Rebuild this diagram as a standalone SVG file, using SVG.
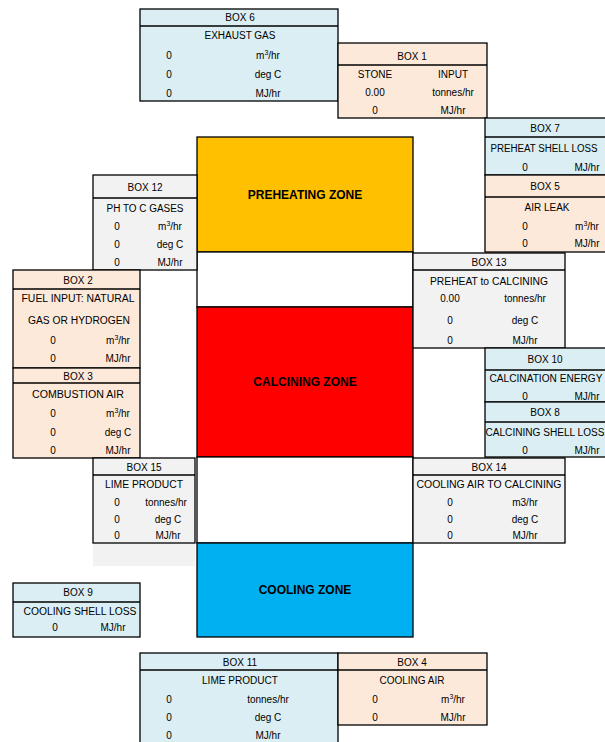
<svg xmlns="http://www.w3.org/2000/svg" width="605" height="742" viewBox="0 0 605 742">
<style>
text{font-family:"Liberation Sans",Arial,sans-serif;font-size:10px;fill:#000;text-anchor:middle}
.z{font-weight:bold;font-size:12px}
.b{fill:#daeef3}.p{fill:#fde9d9}.g{fill:#f2f2f2}.w{fill:#fff}
rect.c{stroke:#000;stroke-width:1.3}
line{stroke:#000;stroke-width:1.3}
.sup{font-size:7px}
</style>
<rect width="605" height="742" fill="#fff"/>
<g id="zones">
<rect class="c" x="197" y="137" width="216" height="115" fill="#ffc000"/>
<rect class="c w" x="197" y="252" width="216" height="55"/>
<rect class="c" x="197" y="307" width="216" height="150" fill="#ff0000"/>
<rect class="c w" x="197" y="457" width="216" height="86"/>
<rect class="c" x="197" y="543" width="216" height="94" fill="#00b0f0"/>
<text class="z" x="305" y="199">PREHEATING ZONE</text>
<text class="z" x="305" y="386">CALCINING ZONE</text>
<text class="z" x="305" y="594">COOLING ZONE</text>
</g>
<g id="box6">
<rect class="c b" x="140" y="9" width="198" height="92"/>
<line x1="140" y1="26" x2="338" y2="26"/>
<text x="240" y="21">BOX 6</text>
<text x="240" y="39">EXHAUST GAS</text>
<text x="169" y="59">0</text><text x="268" y="59">m<tspan class="sup" dy="-4">3</tspan><tspan dy="4">/hr</tspan></text>
<text x="169" y="78">0</text><text x="268" y="78">deg C</text>
<text x="169" y="97">0</text><text x="268" y="97">MJ/hr</text>
</g>
<g id="box1">
<rect class="c p" x="338" y="43" width="149" height="75"/>
<line x1="338" y1="65" x2="487" y2="65"/>
<text x="412" y="60">BOX 1</text>
<text x="375" y="78">STONE</text><text x="453" y="78">INPUT</text>
<text x="375" y="96">0.00</text><text x="453" y="96">tonnes/hr</text>
<text x="375" y="114">0</text><text x="453" y="114">MJ/hr</text>
</g>
<g id="box7">
<rect class="c b" x="485" y="118" width="121" height="57"/>
<line x1="485" y1="137" x2="605" y2="137"/>
<text x="545" y="132">BOX 7</text>
<text x="544" y="152" textLength="107" lengthAdjust="spacingAndGlyphs">PREHEAT SHELL LOSS</text>
<text x="525" y="171">0</text><text x="587" y="171">MJ/hr</text>
</g>
<g id="box5">
<rect class="c p" x="485" y="175" width="121" height="77"/>
<line x1="485" y1="197" x2="605" y2="197"/>
<text x="545" y="190">BOX 5</text>
<text x="547" y="211">AIR LEAK</text>
<text x="525" y="230">0</text><text x="587" y="230">m<tspan class="sup" dy="-4">3</tspan><tspan dy="4">/hr</tspan></text>
<text x="525" y="247">0</text><text x="587" y="247">MJ/hr</text>
</g>
<g id="box12">
<rect class="c g" x="93" y="175" width="104" height="95"/>
<line x1="93" y1="198" x2="197" y2="198"/>
<text x="145" y="191">BOX 12</text>
<text x="145" y="212" textLength="77" lengthAdjust="spacingAndGlyphs">PH TO C GASES</text>
<text x="117" y="230">0</text><text x="170" y="230">m<tspan class="sup" dy="-4">3</tspan><tspan dy="4">/hr</tspan></text>
<text x="117" y="248">0</text><text x="170" y="248">deg C</text>
<text x="117" y="266">0</text><text x="170" y="266">MJ/hr</text>
</g>
<g id="box13">
<rect class="c g" x="413" y="253" width="152" height="95"/>
<line x1="413" y1="270" x2="565" y2="270"/>
<text x="489" y="266">BOX 13</text>
<text x="489" y="285" textLength="118" lengthAdjust="spacingAndGlyphs">PREHEAT to CALCINING</text>
<text x="450" y="302">0.00</text><text x="525" y="302">tonnes/hr</text>
<text x="450" y="324">0</text><text x="525" y="324">deg C</text>
<text x="450" y="344">0</text><text x="525" y="344">MJ/hr</text>
</g>
<g id="box2">
<rect class="c p" x="13" y="270" width="127" height="98"/>
<line x1="13" y1="289" x2="140" y2="289"/>
<text x="78" y="284">BOX 2</text>
<text x="78" y="302" textLength="113" lengthAdjust="spacingAndGlyphs">FUEL INPUT: NATURAL</text>
<text x="79" y="324" textLength="102" lengthAdjust="spacingAndGlyphs">GAS OR  HYDROGEN</text>
<text x="53" y="344">0</text><text x="118" y="344">m<tspan class="sup" dy="-4">3</tspan><tspan dy="4">/hr</tspan></text>
<text x="53" y="362">0</text><text x="118" y="362">MJ/hr</text>
</g>
<g id="box3">
<rect class="c p" x="13" y="368" width="127" height="90"/>
<line x1="13" y1="383" x2="140" y2="383"/>
<text x="78" y="380">BOX 3</text>
<text x="78" y="398" textLength="92" lengthAdjust="spacingAndGlyphs">COMBUSTION AIR</text>
<text x="53" y="417">0</text><text x="118" y="417">m<tspan class="sup" dy="-4">3</tspan><tspan dy="4">/hr</tspan></text>
<text x="53" y="436">0</text><text x="118" y="436">deg C</text>
<text x="53" y="454">0</text><text x="118" y="454">MJ/hr</text>
</g>
<g id="box10">
<rect class="c b" x="485" y="348" width="121" height="54"/>
<line x1="485" y1="370" x2="605" y2="370"/>
<text x="545" y="363">BOX 10</text>
<text x="546" y="382" textLength="113" lengthAdjust="spacingAndGlyphs">CALCINATION ENERGY</text>
<text x="525" y="400">0</text><text x="587" y="400">MJ/hr</text>
</g>
<g id="box8">
<rect class="c b" x="485" y="402" width="121" height="55"/>
<line x1="485" y1="422" x2="605" y2="422"/>
<text x="545" y="416">BOX 8</text>
<text x="545" y="436" textLength="119" lengthAdjust="spacingAndGlyphs">CALCINING SHELL LOSS</text>
<text x="525" y="454">0</text><text x="587" y="454">MJ/hr</text>
</g>
<g id="box15">
<rect x="93" y="543" width="102" height="23" class="g"/>
<rect class="c g" x="93" y="458" width="102" height="85"/>
<line x1="93" y1="475" x2="195" y2="475"/>
<text x="144" y="471">BOX 15</text>
<text x="144" y="488" textLength="78" lengthAdjust="spacingAndGlyphs">LIME PRODUCT</text>
<text x="117" y="506">0</text><text x="166" y="506">tonnes/hr</text>
<text x="117" y="523">0</text><text x="168" y="523">deg C</text>
<text x="117" y="539">0</text><text x="168" y="539">MJ/hr</text>
</g>
<g id="box14">
<rect class="c g" x="413" y="458" width="152" height="85"/>
<line x1="413" y1="475" x2="565" y2="475"/>
<text x="489" y="471">BOX 14</text>
<text x="489" y="488" textLength="145" lengthAdjust="spacingAndGlyphs">COOLING AIR TO CALCINING</text>
<text x="450" y="506">0</text><text x="525" y="506">m3/hr</text>
<text x="450" y="523">0</text><text x="525" y="523">deg C</text>
<text x="450" y="539">0</text><text x="525" y="539">MJ/hr</text>
</g>
<g id="box9">
<rect class="c b" x="13" y="583" width="127" height="54"/>
<line x1="13" y1="602" x2="140" y2="602"/>
<text x="78" y="596">BOX 9</text>
<text x="80" y="615" textLength="113" lengthAdjust="spacingAndGlyphs">COOLING SHELL LOSS</text>
<text x="55" y="631">0</text><text x="113" y="631">MJ/hr</text>
</g>
<g id="box11">
<rect class="c b" x="140" y="653" width="198" height="95"/>
<line x1="140" y1="670" x2="338" y2="670"/>
<text x="240" y="666">BOX 11</text>
<text x="240" y="684" textLength="76" lengthAdjust="spacingAndGlyphs">LIME PRODUCT</text>
<text x="169" y="703">0</text><text x="268" y="703">tonnes/hr</text>
<text x="169" y="721">0</text><text x="268" y="721">deg C</text>
<text x="169" y="739">0</text><text x="268" y="739">MJ/hr</text>
</g>
<g id="box4">
<rect class="c p" x="338" y="653" width="149" height="72"/>
<line x1="338" y1="670" x2="487" y2="670"/>
<text x="412" y="666">BOX 4</text>
<text x="412" y="684">COOLING AIR</text>
<text x="375" y="703">0</text><text x="453" y="703">m<tspan class="sup" dy="-4">3</tspan><tspan dy="4">/hr</tspan></text>
<text x="375" y="721">0</text><text x="453" y="721">MJ/hr</text>
</g>
</svg>
